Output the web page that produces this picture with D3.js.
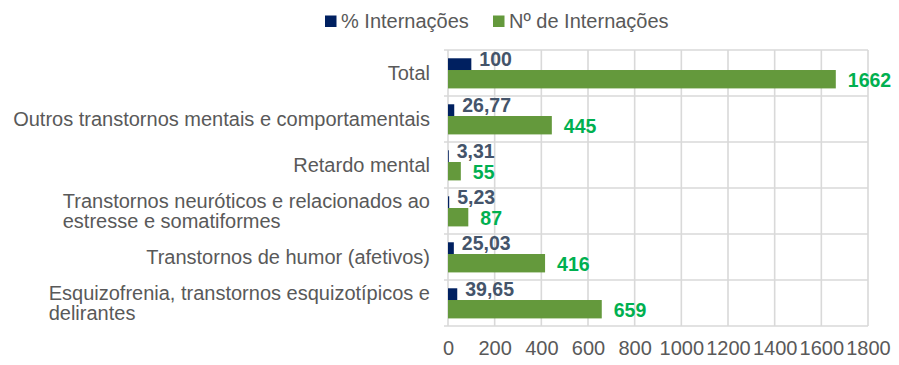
<!DOCTYPE html>
<html>
<head>
<meta charset="utf-8">
<script src="https://cdn.jsdelivr.net/npm/d3@7"></script>
<style>
  html, body { margin: 0; padding: 0; background: #ffffff; }
  svg { display: block; font-family: "Liberation Sans", Arial, sans-serif; }
</style>
</head>
<body>
<svg id="chart" width="899" height="365"></svg>
<script>
// ---- data ----
const categories = [
  "Total",
  "Outros transtornos mentais e comportamentais",
  "Retardo mental",
  "Transtornos neuróticos e relacionados ao\nestresse e somatiformes",
  "Transtornos de humor (afetivos)",
  "Esquizofrenia, transtornos esquizotípicos e\ndelirantes"
];
const pctValues = [100, 26.77, 3.31, 5.23, 25.03, 39.65];
const pctLabels = ["100", "26,77", "3,31", "5,23", "25,03", "39,65"];
const countValues = [1662, 445, 55, 87, 416, 659];
const seriesNames = ["% Internações", "Nº de Internações"];
const xTicks = [0, 200, 400, 600, 800, 1000, 1200, 1400, 1600, 1800];

// ---- styles ----
const navy = "#002060";
const green = "#64993c";
const navyText = "#44546a";
const greenText = "#00b050";
const textGray = "#595959";
const gridGray = "#d9d9d9";

const svg = d3.select("#chart");
const plotLeft = 448, plotRight = 868, plotTop = 50, plotBottom = 326;

const x = d3.scaleLinear().domain([0, 1800]).range([plotLeft, plotRight]);
const y = d3.scaleBand().domain(d3.range(categories.length)).range([plotTop, plotBottom]).paddingInner(0).paddingOuter(0);
const bw = y.bandwidth();
const barH = bw * 0.40;
const navyOff = bw * 0.18;
const greenOff = bw * 0.435;

// vertical gridlines
svg.append("g").selectAll("line").data(xTicks).join("line")
  .attr("x1", d => x(d)).attr("x2", d => x(d))
  .attr("y1", plotTop).attr("y2", plotBottom)
  .attr("stroke", gridGray).attr("stroke-width", 1.6);

// horizontal band lines
const bounds = d3.range(categories.length + 1).map(i => plotTop + i * bw);
svg.append("g").selectAll("line").data(bounds).join("line")
  .attr("x1", plotLeft - 4).attr("x2", plotRight)
  .attr("y1", d => d).attr("y2", d => d)
  .attr("stroke", gridGray).attr("stroke-width", 1.6);

// x axis tick labels
const xAxis = d3.axisBottom(x).tickValues(xTicks).tickSize(0).tickPadding(0).tickFormat(d3.format("d"));
const gx = svg.append("g").attr("transform", `translate(0,${plotBottom})`).call(xAxis);
gx.select(".domain").remove();
gx.selectAll("text")
  .attr("fill", textGray).attr("font-size", 20)
  .attr("dy", null).attr("y", 29);

// bars
svg.append("g").selectAll("rect").data(pctValues).join("rect")
  .attr("x", x(0)).attr("y", (d, i) => y(i) + navyOff)
  .attr("width", d => x(d) - x(0)).attr("height", barH)
  .attr("fill", navy);
svg.append("g").selectAll("rect").data(countValues).join("rect")
  .attr("x", x(0)).attr("y", (d, i) => y(i) + greenOff)
  .attr("width", d => x(d) - x(0)).attr("height", barH)
  .attr("fill", green);

// value labels
svg.append("g").selectAll("text").data(pctValues).join("text")
  .attr("x", d => x(d) + 8)
  .attr("y", (d, i) => y(i) + 16)
  .attr("fill", navyText).attr("font-size", 19.5).attr("font-weight", "bold")
  .text((d, i) => pctLabels[i]);
svg.append("g").selectAll("text").data(countValues).join("text")
  .attr("x", d => x(d) + 12)
  .attr("y", (d, i) => y(i) + 36.5)
  .attr("fill", greenText).attr("font-size", 19.5).attr("font-weight", "bold")
  .text(d => d);

// category labels
const labelRight = 430, lineH = 20.3;
const gl = svg.append("g");
categories.forEach((c, i) => {
  const lines = c.split("\n");
  const t = gl.append("text").attr("fill", textGray).attr("font-size", 20);
  const cy = y(i) + bw / 2;
  const firstBase = cy + 7 - (lines.length - 1) * lineH / 2;
  lines.forEach((ln, k) => {
    t.append("tspan").attr("y", firstBase + k * lineH).text(ln);
  });
  let maxW = 0;
  t.selectAll("tspan").each(function () { maxW = Math.max(maxW, this.getComputedTextLength()); });
  t.selectAll("tspan").attr("x", labelRight - maxW);
});

// legend
const legend = svg.append("g");
const legendItems = [
  { name: seriesNames[0], color: navy, x: 325 },
  { name: seriesNames[1], color: green, x: 493 }
];
legendItems.forEach(it => {
  legend.append("rect").attr("x", it.x).attr("y", 15.5).attr("width", 11.5).attr("height", 11.5).attr("fill", it.color);
  legend.append("text").attr("x", it.x + 16).attr("y", 28).attr("fill", textGray).attr("font-size", 20).text(it.name);
});
</script>
</body>
</html>
